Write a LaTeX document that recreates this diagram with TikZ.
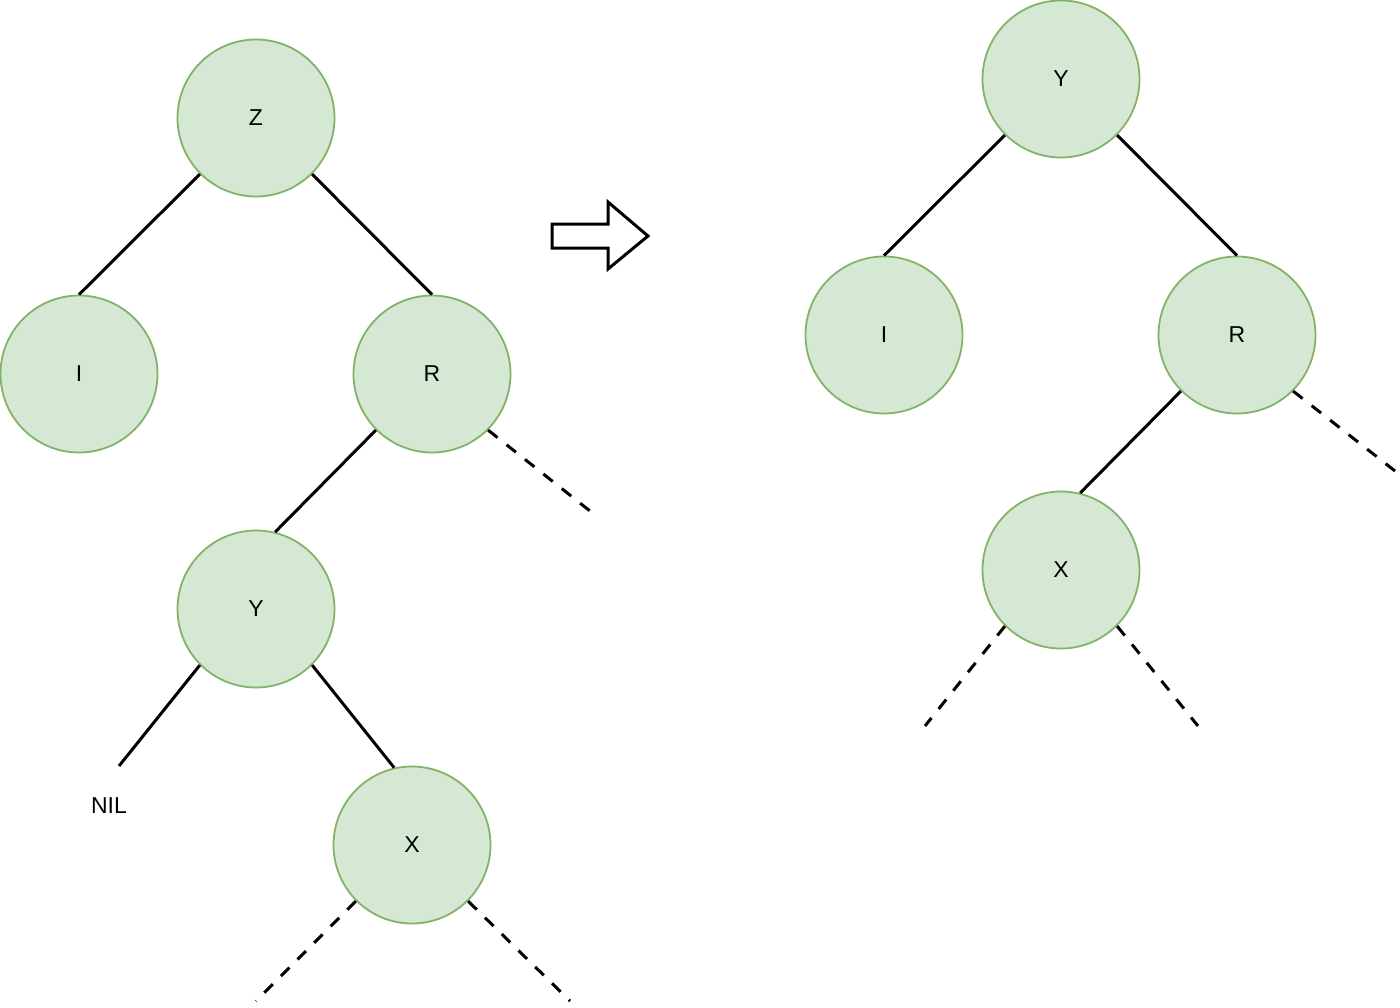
\documentclass[tikz,border=0pt]{standalone}
\usepackage{fontspec}
\setmainfont{Liberation Sans}
\definecolor{nodefill}{HTML}{D5E8D4}
\definecolor{nodeborder}{HTML}{82B366}
\begin{document}
\begin{tikzpicture}[x=1pt,y=-1pt,
  rbnode/.style={circle,draw=nodeborder,fill=nodefill,line width=1.8pt,minimum size=157pt,inner sep=0pt,font=\fontsize{23}{27}\selectfont},
  treeline/.style={line width=3pt,black},
  dashline/.style={line width=3pt,black,dash pattern=on 12pt off 11.5pt},
  niltext/.style={font=\fontsize{23}{27}\selectfont,inner sep=0pt}]
\useasboundingbox (0,0) rectangle (1400,1007);

% left tree
\node[rbnode] (Z) at (256,118) {Z};
\node[rbnode] (I) at (79,374) {I};
\node[rbnode] (R) at (432,374) {R};
\node[rbnode] (Y) at (256,609) {Y};
\node[rbnode] (X) at (412,845) {X};
\coordinate (nilend) at (119,766);
\node[niltext] (nil) at (109,806) {NIL};
\coordinate (rdash) at (590,511);
\coordinate (xdashL) at (256,1001);
\coordinate (xdashR) at (570,1001);

\draw[treeline] (Z.225) -- (I.north);
\draw[treeline] (Z.-45) -- (R.north);
\draw[treeline] (R.225) -- (Y.76);
\draw[treeline] (Y.225) -- (nilend);
\draw[treeline] (Y.-45) -- (X.103);
\draw[dashline] (R.-45) -- (rdash);
\draw[dashline] (X.225) -- (xdashL);
\draw[dashline] (X.-45) -- (xdashR);

% arrow
\draw[line width=3pt,line join=miter] (552,224) -- (608,224) -- (608,202) -- (648,236) -- (608,269) -- (608,248) -- (552,248) -- cycle;

% right tree
\node[rbnode] (Y2) at (1061,79) {Y};
\node[rbnode] (I2) at (884,335) {I};
\node[rbnode] (R2) at (1237,335) {R};
\node[rbnode] (X2) at (1061,570) {X};
\coordinate (r2dash) at (1395,471);
\coordinate (x2dashL) at (925,726);
\coordinate (x2dashR) at (1198,726);

\draw[treeline] (Y2.225) -- (I2.north);
\draw[treeline] (Y2.-45) -- (R2.north);
\draw[treeline] (R2.225) -- (X2.76);
\draw[dashline] (R2.-45) -- (r2dash);
\draw[dashline] (X2.225) -- (x2dashL);
\draw[dashline] (X2.-45) -- (x2dashR);
\end{tikzpicture}
\end{document}
